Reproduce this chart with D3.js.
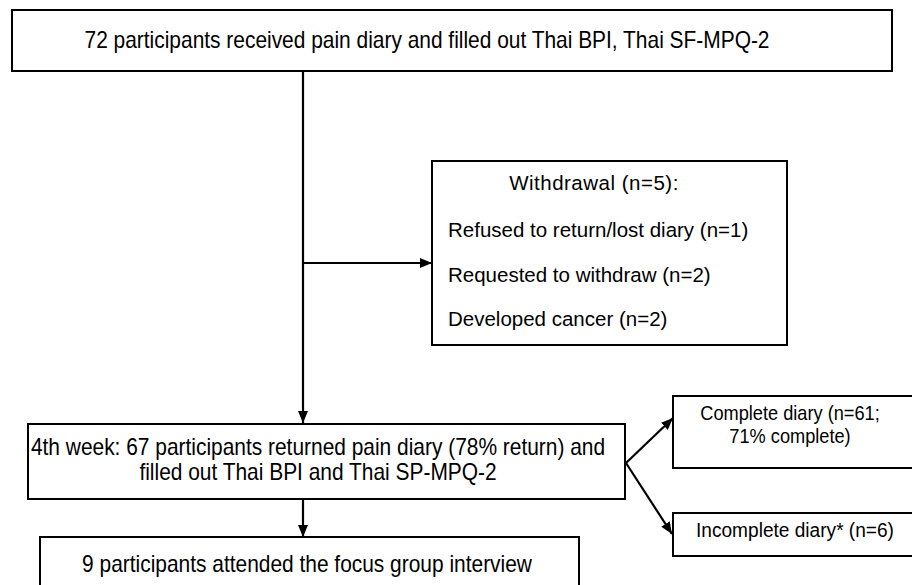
<!DOCTYPE html>
<html>
<head>
<meta charset="utf-8">
<script src="https://cdn.jsdelivr.net/npm/d3@7"></script>
<style>
  body { margin: 0; background: #fff; }
  text { font-family: 'Liberation Sans', Arial, sans-serif; fill: #000; }
</style>
</head>
<body>
<div id="flow"></div>
<script>
const width = 912
const height = 585

// box texts
const topLines = ['72 participants received pain diary and filled out Thai BPI, Thai SF-MPQ-2']
const withdrawLines = ['Withdrawal (n=5):', 'Refused to return/lost diary (n=1)', 'Requested to withdraw (n=2)', 'Developed cancer (n=2)']
const returnLines = ['4th week: 67 participants returned pain diary (78% return) and', 'filled out Thai BPI and Thai SP-MPQ-2']
const focusLines = ['9 participants attended the focus group interview']
const completeLines = ['Complete diary (n=61;', '71% complete)']
const incompleteLines = ['Incomplete diary* (n=6)']

const svg = d3
  .select('#flow')
  .append('svg')
  .attr('width', width)
  .attr('height', height)

svg.append('defs')
  .append('marker')
  .attr('id', 'head')
  .attr('viewBox', '0 0 12 10')
  .attr('refX', 12)
  .attr('refY', 5)
  .attr('markerWidth', 12)
  .attr('markerHeight', 10)
  .attr('markerUnits', 'userSpaceOnUse')
  .attr('orient', 'auto')
  .append('path')
  .attr('d', 'M0,0L12,5L0,10Z')
  .attr('fill', '#000')

function box(x0, y0, x1, y1) {
  svg.append('rect')
    .attr('x', x0)
    .attr('y', y0)
    .attr('width', x1 - x0)
    .attr('height', y1 - y0)
    .attr('fill', '#fff')
    .attr('stroke', '#000')
    .attr('stroke-width', 2)
}

function arrow(pts) {
  svg.append('path')
    .attr('d', d3.line()(pts))
    .attr('fill', 'none')
    .attr('stroke', '#000')
    .attr('stroke-width', 2.2)
    .attr('marker-end', 'url(#head)')
}

// condensed text, like the narrow export in the original
const squeeze = 0.91
function narrow(lines, cx, y0, gap, size) {
  const g = svg.append('g').attr('transform', 'translate(' + cx + ',0) scale(' + squeeze + ',1)')
  g.selectAll('text')
    .data(lines)
    .enter()
    .append('text')
    .attr('x', 0)
    .attr('y', (d, i) => y0 + i * gap)
    .attr('text-anchor', 'middle')
    .attr('font-size', size)
    .text(d => d)
}

// lines first, boxes on top
svg.append('line')
  .attr('x1', 303).attr('y1', 71)
  .attr('x2', 303).attr('y2', 263)
  .attr('stroke', '#000').attr('stroke-width', 2.2)
arrow([[303, 263], [303, 423]])
arrow([[303, 263], [432, 263]])
arrow([[303, 499], [303, 537]])
arrow([[626, 463], [673, 418]])
arrow([[626, 463], [672, 534]])

box(12, 10, 892, 71)
box(432, 161, 787, 345)
box(28, 424, 625, 499)
box(40, 537, 579, 600)
box(673, 396, 920, 468)
box(673, 513, 920, 556)

narrow(topLines, 427, 48, 0, 23)
narrow(returnLines, 318, 455, 25, 23)
narrow(focusLines, 307, 572, 0, 23)
narrow(completeLines, 790, 420, 23, 20)
narrow(incompleteLines, 795, 537, 0, 21)

// withdrawal box keeps a plain face
svg.append('text')
  .attr('x', 594)
  .attr('y', 190)
  .attr('text-anchor', 'middle')
  .attr('font-size', 20.5)
  .attr('letter-spacing', 0.5)
  .text(withdrawLines[0])

svg.selectAll('.reason')
  .data(withdrawLines.slice(1))
  .enter()
  .append('text')
  .attr('class', 'reason')
  .attr('x', 448)
  .attr('y', (d, i) => 237 + i * 44.5)
  .attr('font-size', 20.5)
  .text(d => d)
</script>
</body>
</html>
